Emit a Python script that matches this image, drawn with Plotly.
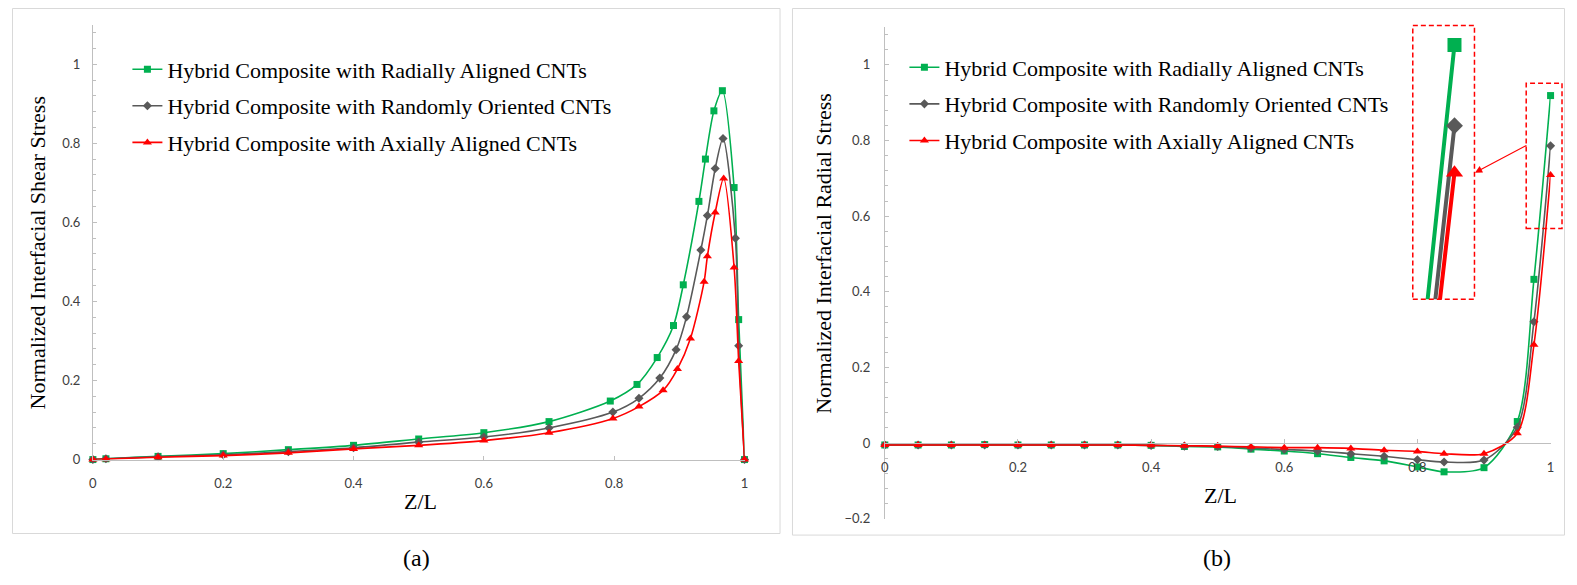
import plotly.graph_objects as go

# ---------------- data ----------------
series_names = [
    "Hybrid Composite with Radially Aligned CNTs",
    "Hybrid Composite with Randomly Oriented CNTs",
    "Hybrid Composite with Axially Aligned CNTs",
]

# (a) Normalized interfacial shear stress
a_x_radial = [0, 0.02, 0.1, 0.2, 0.3, 0.4, 0.5, 0.6, 0.7, 0.794, 0.835, 0.866, 0.891, 0.906, 0.930, 0.940, 0.953, 0.966, 0.984, 0.991, 1.0]
a_y_radial = [0, 0.002, 0.008, 0.015, 0.025, 0.036, 0.052, 0.068, 0.096, 0.148, 0.190, 0.258, 0.339, 0.442, 0.653, 0.760, 0.882, 0.933, 0.688, 0.354, 0]
a_x_random = [0, 0.02, 0.1, 0.2, 0.3, 0.4, 0.5, 0.6, 0.7, 0.798, 0.838, 0.870, 0.895, 0.911, 0.933, 0.943, 0.955, 0.967, 0.986, 0.991, 1.0]
a_y_random = [0, 0.002, 0.007, 0.012, 0.020, 0.030, 0.044, 0.057, 0.080, 0.120, 0.155, 0.206, 0.278, 0.361, 0.530, 0.617, 0.736, 0.812, 0.560, 0.288, 0]
a_x_axial = [0, 0.02, 0.1, 0.2, 0.3, 0.4, 0.5, 0.6, 0.7, 0.798, 0.838, 0.875, 0.897, 0.917, 0.938, 0.943, 0.955, 0.968, 0.984, 0.991, 1.0]
a_y_axial = [0, 0.001, 0.006, 0.010, 0.017, 0.027, 0.036, 0.048, 0.068, 0.104, 0.134, 0.175, 0.229, 0.306, 0.450, 0.514, 0.625, 0.711, 0.486, 0.249, 0]

# (b) Normalized interfacial radial stress
b_x = [0, 0.05, 0.1, 0.15, 0.2, 0.25, 0.3, 0.35, 0.4, 0.45, 0.5, 0.55, 0.6, 0.65, 0.7, 0.75, 0.8, 0.84, 0.9, 0.95, 0.975, 1.0]
b_y_radial = [-0.005, -0.005, -0.005, -0.004, -0.005, -0.005, -0.005, -0.005, -0.006, -0.009, -0.010, -0.016, -0.021, -0.028, -0.038, -0.047, -0.063, -0.076, -0.065, 0.057, 0.433, 0.919]
b_y_random = [-0.005, -0.005, -0.005, -0.005, -0.005, -0.005, -0.005, -0.005, -0.006, -0.008, -0.009, -0.013, -0.017, -0.021, -0.028, -0.035, -0.044, -0.050, -0.045, 0.042, 0.321, 0.786]
b_y_axial = [-0.005, -0.005, -0.005, -0.005, -0.005, -0.005, -0.005, -0.005, -0.006, -0.007, -0.008, -0.010, -0.012, -0.012, -0.014, -0.019, -0.022, -0.028, -0.028, 0.026, 0.260, 0.709]

x_ticks = [0, 0.2, 0.4, 0.6, 0.8, 1]

# ---------------- styling ----------------
# page is 1577x585; the browser body adds an 8px margin, so the figure is
# 16px smaller and every pixel position is shifted by that margin.
PAGE_W, PAGE_H = 1577, 585
OFF = 8
W, H = PAGE_W - 2 * OFF, PAGE_H - 2 * OFF
GREEN, GRAY, RED = "#00B050", "#595959", "#FF0000"
AXC = "#BFBFBF"
SERIF = "Liberation Serif"
SANS = "Lato"

def fx(p):
    return min(max((p - OFF) / W, 0), 1)

def fy(p):
    return min(max(1 - (p - OFF) / H, 0), 1)

colors = [GREEN, GRAY, RED]
symbols = ["square", "diamond", "triangle-up"]
msizes = [7, 7, 8]
big_msizes = [14, 13, 15]

fig = go.Figure()

a_sets = [(a_x_radial, a_y_radial), (a_x_random, a_y_random), (a_x_axial, a_y_axial)]
for i, (xs, ys) in enumerate(a_sets):
    fig.add_trace(go.Scatter(
        x=xs, y=ys, mode="lines+markers", name=series_names[i],
        line=dict(color=colors[i], width=1.6, shape="spline", smoothing=0.8),
        marker=dict(symbol=symbols[i], size=msizes[i], color=colors[i]),
        xaxis="x", yaxis="y", legend="legend", legendgroup="a%d" % i,
        cliponaxis=False,
    ))

b_sets = [b_y_radial, b_y_random, b_y_axial]
for i, ys in enumerate(b_sets):
    fig.add_trace(go.Scatter(
        x=b_x, y=ys, mode="lines+markers", name=series_names[i],
        line=dict(color=colors[i], width=1.6, shape="spline", smoothing=0.8),
        marker=dict(symbol=symbols[i], size=msizes[i], color=colors[i]),
        xaxis="x2", yaxis="y2", legend="legend2", legendgroup="b%d" % i,
        cliponaxis=False,
    ))

# magnified inset of panel (b)
for i, ys in enumerate(b_sets):
    fig.add_trace(go.Scatter(
        x=b_x, y=ys, mode="lines+markers", showlegend=False,
        line=dict(color=colors[i], width=4),
        marker=dict(symbol=symbols[i], size=big_msizes[i], color=colors[i]),
        xaxis="x3", yaxis="y3",
    ))

# plot areas (pixel geometry of the reference)
a_left, a_right, a_bottom, a_top = 89.3, 744.3, 466.0, 24.9
b_left, b_right, b_bottom, b_top = 885.3, 1554.5, 526.0, 27.4
b_zero = 449.3

tickfont = dict(family=SANS, size=13, color="#404040")
common_x = dict(range=[0, 1], tickvals=x_ticks, showline=True, linecolor=AXC, linewidth=1,
                ticks="inside", ticklen=4, tickcolor=AXC, showgrid=False, zeroline=False,
                tickfont=tickfont)
common_y = dict(tick0=0, dtick=0.2, showline=True, linecolor=AXC, linewidth=1,
                ticks="inside", ticklen=4, tickcolor=AXC, showgrid=False, zeroline=False,
                tickfont=tickfont,
                minor=dict(dtick=0.04, ticks="inside", ticklen=3, tickcolor=AXC, showgrid=False))

fig.update_layout(
    width=W, height=H,
    margin=dict(l=0, r=0, t=0, b=0),
    paper_bgcolor="white", plot_bgcolor="white",
    font=dict(family=SANS),
    xaxis=dict(domain=[fx(a_left), fx(a_right)], anchor="y", ticklabelstandoff=12, **common_x),
    yaxis=dict(domain=[fy(a_bottom), fy(a_top)], anchor="x", range=[0, 1.1], ticklabelstandoff=9, **common_y),
    xaxis2=dict(domain=[fx(b_left), fx(b_right)], anchor="free", position=fy(b_zero),
                ticklabelstandoff=12, **common_x),
    yaxis2=dict(domain=[fy(b_bottom), fy(b_top)], anchor="x2", range=[-0.2, 1.1], ticklabelstandoff=11, **common_y),
    xaxis3=dict(domain=[fx(1416), fx(1478)], anchor="y3", range=[0.9666, 1.016], visible=False),
    yaxis3=dict(domain=[fy(303.3), fy(25.7)], anchor="x3", range=[0.501, 0.951], visible=False),
    legend=dict(x=fx(124), y=fy(49), xanchor="left", yanchor="top", bgcolor="rgba(0,0,0,0)",
                font=dict(family=SERIF, size=22, color="black"), itemwidth=30, tracegroupgap=5,
                itemclick=False, itemdoubleclick=False),
    legend2=dict(x=fx(905), y=fy(47), xanchor="left", yanchor="top", bgcolor="rgba(0,0,0,0)",
                 font=dict(family=SERIF, size=22, color="black"), itemwidth=30, tracegroupgap=5,
                 itemclick=False, itemdoubleclick=False),
    showlegend=True,
)

dash = "5px,3px"
shapes = [
    # panel frames
    dict(type="rect", xref="paper", yref="paper", x0=fx(8.5), x1=fx(780), y0=fy(541), y1=fy(8.5),
         line=dict(color="#D9D9D9", width=1)),
    dict(type="rect", xref="paper", yref="paper", x0=fx(792.5), x1=fx(1568.5), y0=fy(542.6), y1=fy(8.5),
         line=dict(color="#D9D9D9", width=1)),
    # magnified box
    dict(type="rect", xref="paper", yref="paper", x0=fx(1416), x1=fx(1478), y0=fy(303.3), y1=fy(25.7),
         line=dict(color=RED, width=1.5, dash=dash)),
    # small highlight box
    dict(type="rect", xref="paper", yref="paper", x0=fx(1530), x1=fx(1566), y0=fy(231.7), y1=fy(84.4),
         line=dict(color=RED, width=1.5, dash=dash)),
]
fig.update_layout(shapes=shapes)

def label(text, x, y, size=22, angle=0):
    return dict(text=text, xref="paper", yref="paper", x=fx(x), y=fy(y), showarrow=False,
                xanchor="center", yanchor="middle", textangle=angle,
                font=dict(family=SERIF, size=size, color="black"))

annotations = [
    label("Z/L", 419, 509),
    label("Z/L", 1223, 502.5),
    label("Normalized Interfacial Shear Stress", 33.5, 256.5, angle=-90),
    label("Normalized Interfacial Radial Stress", 823.5, 257, angle=-90),
    label("(a)", 415, 566, size=24),
    label("(b)", 1219, 566, size=24),
    dict(text="", xref="paper", yref="paper", x=fx(1478.5), y=fy(175), ax=53, ay=-28,
         showarrow=True, arrowhead=2, arrowsize=1.2, arrowwidth=1.2, arrowcolor=RED),
]
fig.update_layout(annotations=annotations)

fig.write_html("out.html", config={"displayModeBar": False})
